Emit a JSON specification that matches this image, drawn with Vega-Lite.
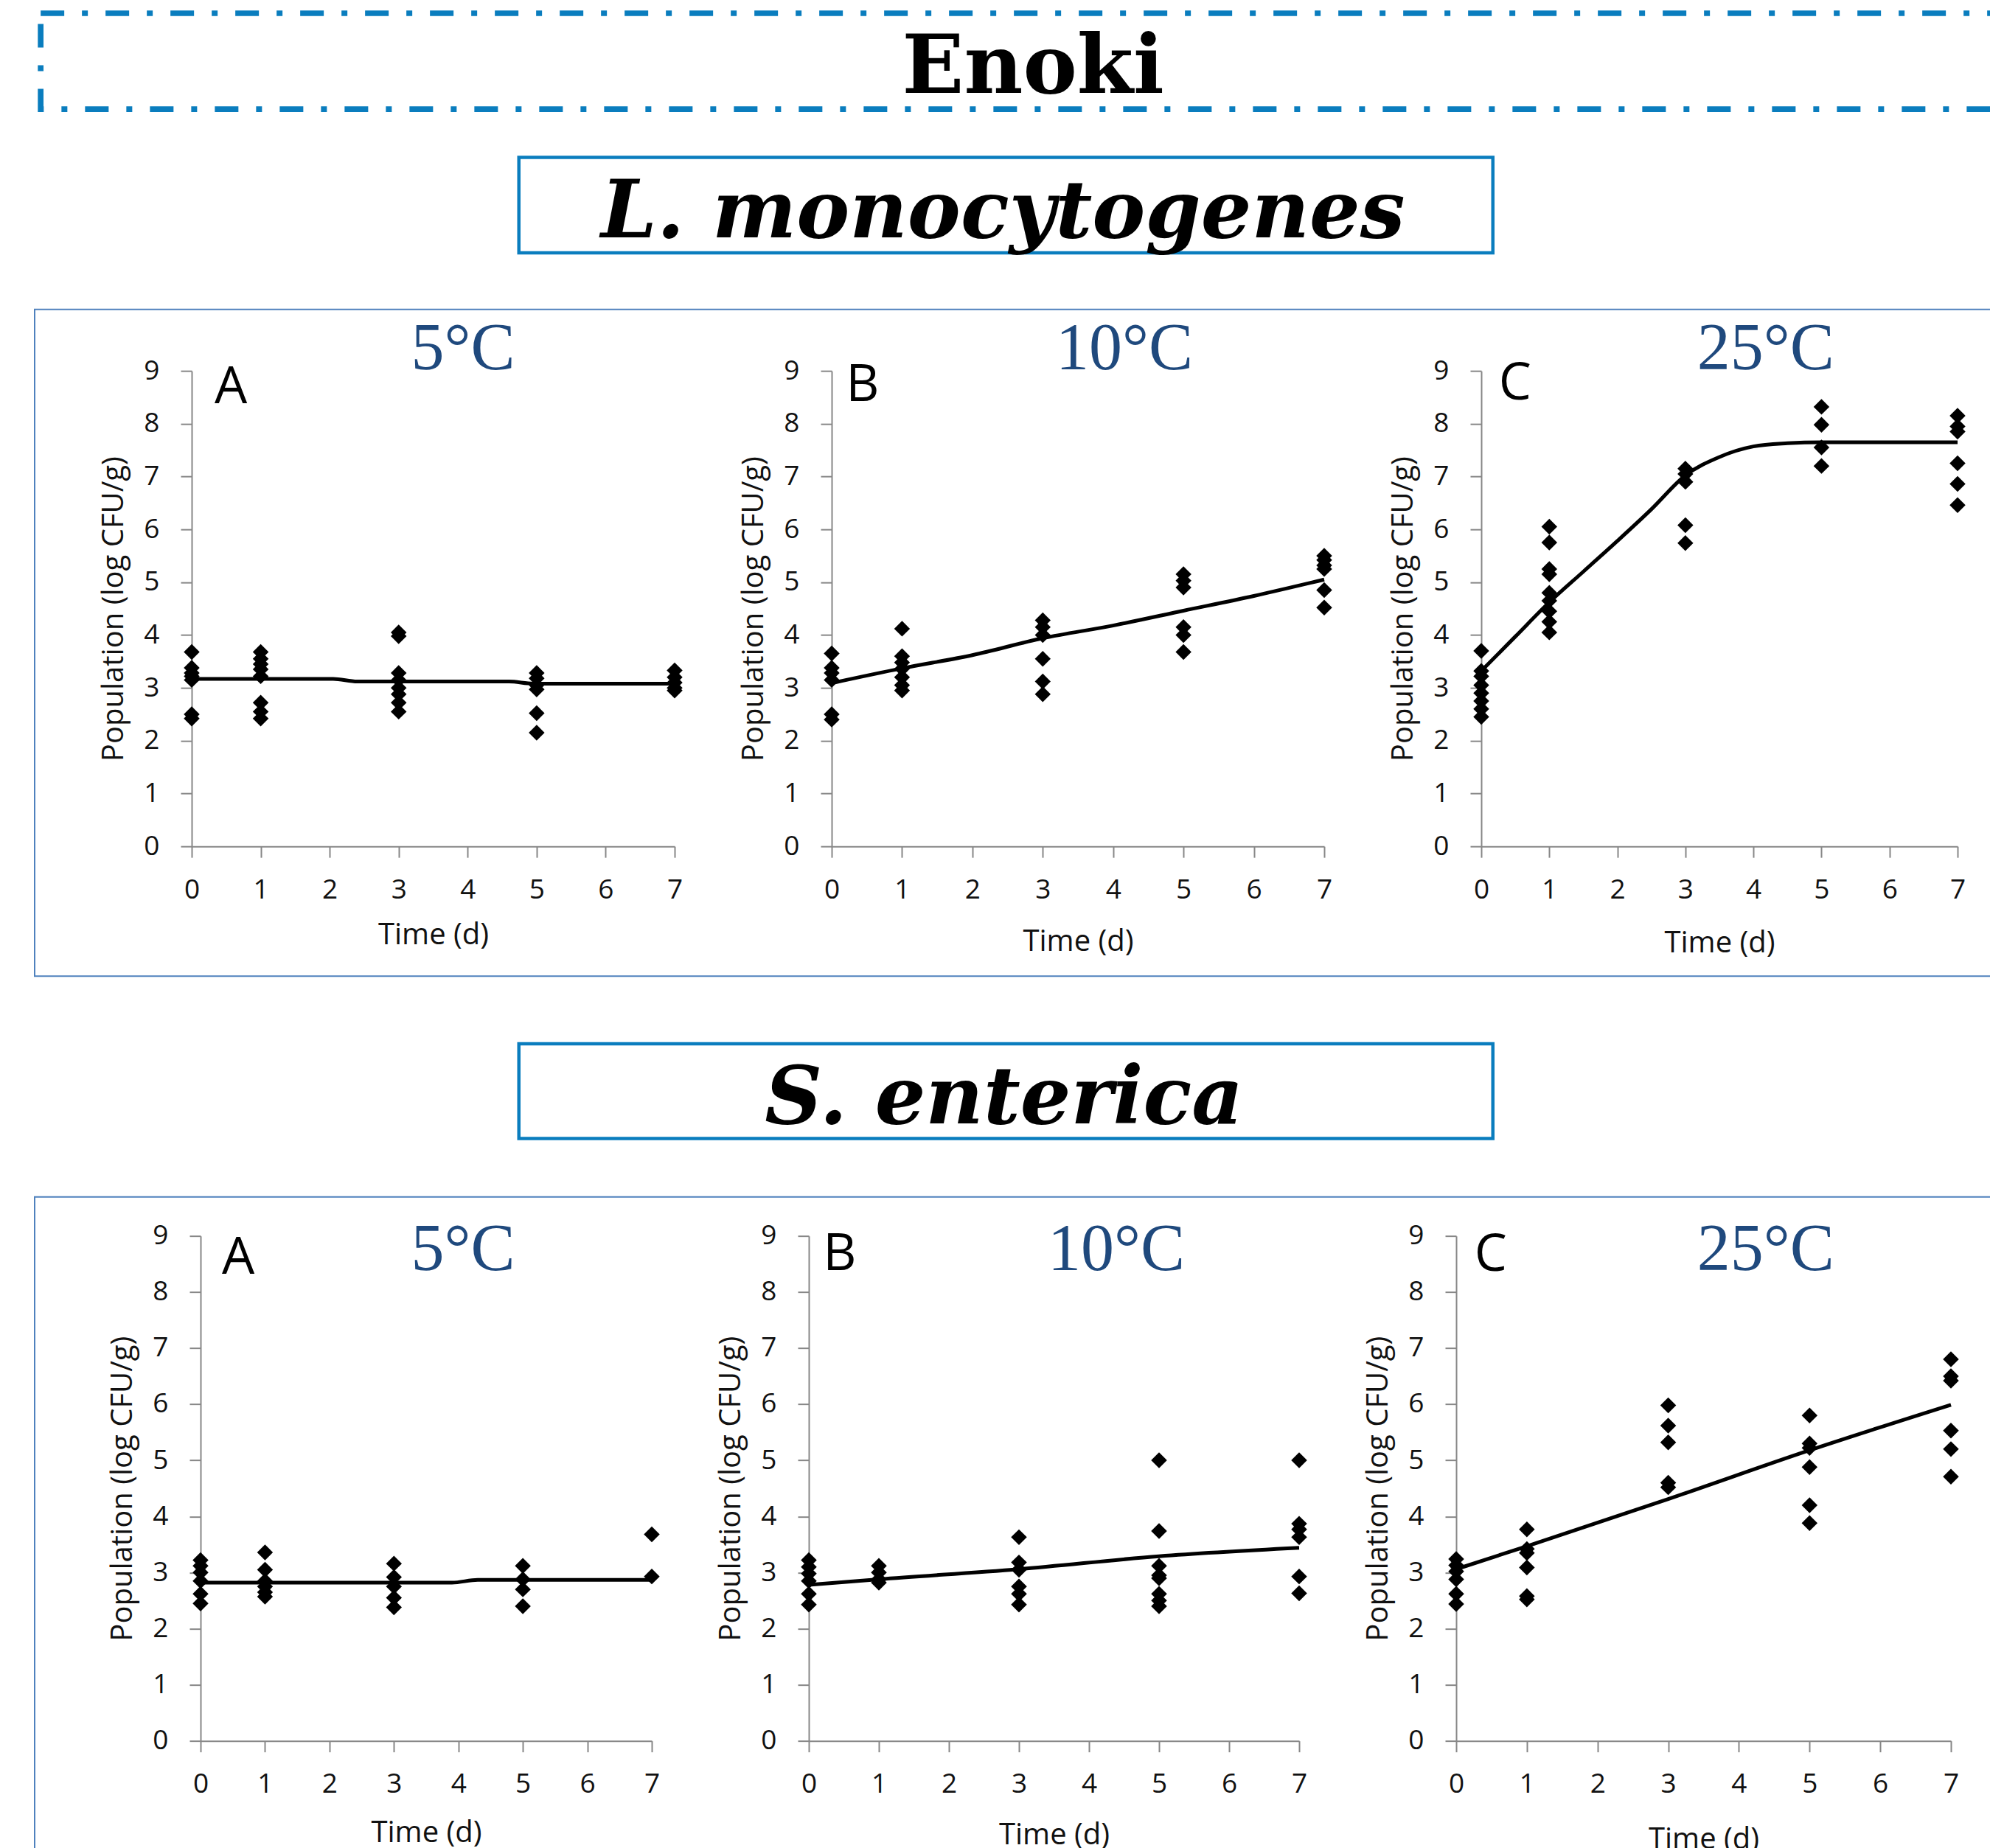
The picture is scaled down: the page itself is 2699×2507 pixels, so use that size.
{
  "$schema": "https://vega.github.io/schema/vega-lite/v6.json",
  "padding": {"left": 46, "top": 14, "right": 0, "bottom": 0},
  "background": "white",
  "datasets": {
    "pts": [
      {"org":"L","temp":5,"day":0,"cfu":3.68},{"org":"L","temp":5,"day":0,"cfu":3.38},{"org":"L","temp":5,"day":0,"cfu":3.28},{"org":"L","temp":5,"day":0,"cfu":3.22},{"org":"L","temp":5,"day":0,"cfu":3.15},{"org":"L","temp":5,"day":0,"cfu":2.5},{"org":"L","temp":5,"day":0,"cfu":2.42},
      {"org":"L","temp":5,"day":1,"cfu":3.68},{"org":"L","temp":5,"day":1,"cfu":3.55},{"org":"L","temp":5,"day":1,"cfu":3.45},{"org":"L","temp":5,"day":1,"cfu":3.35},{"org":"L","temp":5,"day":1,"cfu":3.22},{"org":"L","temp":5,"day":1,"cfu":2.72},{"org":"L","temp":5,"day":1,"cfu":2.55},{"org":"L","temp":5,"day":1,"cfu":2.42},
      {"org":"L","temp":5,"day":3,"cfu":4.05},{"org":"L","temp":5,"day":3,"cfu":3.98},{"org":"L","temp":5,"day":3,"cfu":3.28},{"org":"L","temp":5,"day":3,"cfu":3.15},{"org":"L","temp":5,"day":3,"cfu":3.0},{"org":"L","temp":5,"day":3,"cfu":2.88},{"org":"L","temp":5,"day":3,"cfu":2.72},{"org":"L","temp":5,"day":3,"cfu":2.55},
      {"org":"L","temp":5,"day":5,"cfu":3.28},{"org":"L","temp":5,"day":5,"cfu":3.18},{"org":"L","temp":5,"day":5,"cfu":3.05},{"org":"L","temp":5,"day":5,"cfu":2.97},{"org":"L","temp":5,"day":5,"cfu":2.52},{"org":"L","temp":5,"day":5,"cfu":2.15},
      {"org":"L","temp":5,"day":7,"cfu":3.33},{"org":"L","temp":5,"day":7,"cfu":3.2},{"org":"L","temp":5,"day":7,"cfu":3.1},{"org":"L","temp":5,"day":7,"cfu":3.0},{"org":"L","temp":5,"day":7,"cfu":2.95},
      {"org":"L","temp":10,"day":0,"cfu":3.65},{"org":"L","temp":10,"day":0,"cfu":3.38},{"org":"L","temp":10,"day":0,"cfu":3.28},{"org":"L","temp":10,"day":0,"cfu":3.15},{"org":"L","temp":10,"day":0,"cfu":2.5},{"org":"L","temp":10,"day":0,"cfu":2.4},
      {"org":"L","temp":10,"day":1,"cfu":4.12},{"org":"L","temp":10,"day":1,"cfu":3.6},{"org":"L","temp":10,"day":1,"cfu":3.48},{"org":"L","temp":10,"day":1,"cfu":3.36},{"org":"L","temp":10,"day":1,"cfu":3.2},{"org":"L","temp":10,"day":1,"cfu":3.05},{"org":"L","temp":10,"day":1,"cfu":2.95},
      {"org":"L","temp":10,"day":3,"cfu":4.28},{"org":"L","temp":10,"day":3,"cfu":4.15},{"org":"L","temp":10,"day":3,"cfu":4.0},{"org":"L","temp":10,"day":3,"cfu":3.55},{"org":"L","temp":10,"day":3,"cfu":3.12},{"org":"L","temp":10,"day":3,"cfu":2.88},
      {"org":"L","temp":10,"day":5,"cfu":5.15},{"org":"L","temp":10,"day":5,"cfu":5.03},{"org":"L","temp":10,"day":5,"cfu":4.9},{"org":"L","temp":10,"day":5,"cfu":4.15},{"org":"L","temp":10,"day":5,"cfu":4.0},{"org":"L","temp":10,"day":5,"cfu":3.68},
      {"org":"L","temp":10,"day":7,"cfu":5.5},{"org":"L","temp":10,"day":7,"cfu":5.42},{"org":"L","temp":10,"day":7,"cfu":5.32},{"org":"L","temp":10,"day":7,"cfu":5.25},{"org":"L","temp":10,"day":7,"cfu":4.85},{"org":"L","temp":10,"day":7,"cfu":4.52},
      {"org":"L","temp":25,"day":0,"cfu":3.7},{"org":"L","temp":25,"day":0,"cfu":3.32},{"org":"L","temp":25,"day":0,"cfu":3.22},{"org":"L","temp":25,"day":0,"cfu":3.05},{"org":"L","temp":25,"day":0,"cfu":2.9},{"org":"L","temp":25,"day":0,"cfu":2.75},{"org":"L","temp":25,"day":0,"cfu":2.6},{"org":"L","temp":25,"day":0,"cfu":2.45},
      {"org":"L","temp":25,"day":1,"cfu":6.05},{"org":"L","temp":25,"day":1,"cfu":5.75},{"org":"L","temp":25,"day":1,"cfu":5.25},{"org":"L","temp":25,"day":1,"cfu":5.15},{"org":"L","temp":25,"day":1,"cfu":4.8},{"org":"L","temp":25,"day":1,"cfu":4.65},{"org":"L","temp":25,"day":1,"cfu":4.45},{"org":"L","temp":25,"day":1,"cfu":4.25},{"org":"L","temp":25,"day":1,"cfu":4.05},
      {"org":"L","temp":25,"day":3,"cfu":7.15},{"org":"L","temp":25,"day":3,"cfu":7.05},{"org":"L","temp":25,"day":3,"cfu":6.9},{"org":"L","temp":25,"day":3,"cfu":6.08},{"org":"L","temp":25,"day":3,"cfu":5.74},
      {"org":"L","temp":25,"day":5,"cfu":8.32},{"org":"L","temp":25,"day":5,"cfu":7.98},{"org":"L","temp":25,"day":5,"cfu":7.55},{"org":"L","temp":25,"day":5,"cfu":7.2},
      {"org":"L","temp":25,"day":7,"cfu":8.15},{"org":"L","temp":25,"day":7,"cfu":7.95},{"org":"L","temp":25,"day":7,"cfu":7.85},{"org":"L","temp":25,"day":7,"cfu":7.25},{"org":"L","temp":25,"day":7,"cfu":6.86},{"org":"L","temp":25,"day":7,"cfu":6.46},
      {"org":"S","temp":5,"day":0,"cfu":3.22},{"org":"S","temp":5,"day":0,"cfu":3.12},{"org":"S","temp":5,"day":0,"cfu":3.0},{"org":"S","temp":5,"day":0,"cfu":2.85},{"org":"S","temp":5,"day":0,"cfu":2.62},{"org":"S","temp":5,"day":0,"cfu":2.45},
      {"org":"S","temp":5,"day":1,"cfu":3.36},{"org":"S","temp":5,"day":1,"cfu":3.05},{"org":"S","temp":5,"day":1,"cfu":2.85},{"org":"S","temp":5,"day":1,"cfu":2.75},{"org":"S","temp":5,"day":1,"cfu":2.65},{"org":"S","temp":5,"day":1,"cfu":2.57},
      {"org":"S","temp":5,"day":3,"cfu":3.16},{"org":"S","temp":5,"day":3,"cfu":2.92},{"org":"S","temp":5,"day":3,"cfu":2.75},{"org":"S","temp":5,"day":3,"cfu":2.55},{"org":"S","temp":5,"day":3,"cfu":2.38},
      {"org":"S","temp":5,"day":5,"cfu":3.12},{"org":"S","temp":5,"day":5,"cfu":2.88},{"org":"S","temp":5,"day":5,"cfu":2.7},{"org":"S","temp":5,"day":5,"cfu":2.4},
      {"org":"S","temp":5,"day":7,"cfu":3.68},{"org":"S","temp":5,"day":7,"cfu":2.93},
      {"org":"S","temp":10,"day":0,"cfu":3.22},{"org":"S","temp":10,"day":0,"cfu":3.1},{"org":"S","temp":10,"day":0,"cfu":2.98},{"org":"S","temp":10,"day":0,"cfu":2.85},{"org":"S","temp":10,"day":0,"cfu":2.62},{"org":"S","temp":10,"day":0,"cfu":2.43},
      {"org":"S","temp":10,"day":1,"cfu":3.12},{"org":"S","temp":10,"day":1,"cfu":3.0},{"org":"S","temp":10,"day":1,"cfu":2.88},{"org":"S","temp":10,"day":1,"cfu":2.82},
      {"org":"S","temp":10,"day":3,"cfu":3.63},{"org":"S","temp":10,"day":3,"cfu":3.18},{"org":"S","temp":10,"day":3,"cfu":3.05},{"org":"S","temp":10,"day":3,"cfu":2.75},{"org":"S","temp":10,"day":3,"cfu":2.62},{"org":"S","temp":10,"day":3,"cfu":2.43},
      {"org":"S","temp":10,"day":5,"cfu":5.0},{"org":"S","temp":10,"day":5,"cfu":3.74},{"org":"S","temp":10,"day":5,"cfu":3.12},{"org":"S","temp":10,"day":5,"cfu":2.95},{"org":"S","temp":10,"day":5,"cfu":2.9},{"org":"S","temp":10,"day":5,"cfu":2.62},{"org":"S","temp":10,"day":5,"cfu":2.5},{"org":"S","temp":10,"day":5,"cfu":2.4},
      {"org":"S","temp":10,"day":7,"cfu":5.0},{"org":"S","temp":10,"day":7,"cfu":3.87},{"org":"S","temp":10,"day":7,"cfu":3.77},{"org":"S","temp":10,"day":7,"cfu":3.63},{"org":"S","temp":10,"day":7,"cfu":2.93},{"org":"S","temp":10,"day":7,"cfu":2.63},
      {"org":"S","temp":25,"day":0,"cfu":3.24},{"org":"S","temp":25,"day":0,"cfu":3.13},{"org":"S","temp":25,"day":0,"cfu":3.02},{"org":"S","temp":25,"day":0,"cfu":2.88},{"org":"S","temp":25,"day":0,"cfu":2.62},{"org":"S","temp":25,"day":0,"cfu":2.44},
      {"org":"S","temp":25,"day":1,"cfu":3.77},{"org":"S","temp":25,"day":1,"cfu":3.42},{"org":"S","temp":25,"day":1,"cfu":3.35},{"org":"S","temp":25,"day":1,"cfu":3.09},{"org":"S","temp":25,"day":1,"cfu":2.58},{"org":"S","temp":25,"day":1,"cfu":2.52},
      {"org":"S","temp":25,"day":3,"cfu":5.98},{"org":"S","temp":25,"day":3,"cfu":5.62},{"org":"S","temp":25,"day":3,"cfu":5.32},{"org":"S","temp":25,"day":3,"cfu":4.6},{"org":"S","temp":25,"day":3,"cfu":4.52},
      {"org":"S","temp":25,"day":5,"cfu":5.8},{"org":"S","temp":25,"day":5,"cfu":5.3},{"org":"S","temp":25,"day":5,"cfu":5.22},{"org":"S","temp":25,"day":5,"cfu":4.88},{"org":"S","temp":25,"day":5,"cfu":4.2},{"org":"S","temp":25,"day":5,"cfu":3.88},
      {"org":"S","temp":25,"day":7,"cfu":6.8},{"org":"S","temp":25,"day":7,"cfu":6.5},{"org":"S","temp":25,"day":7,"cfu":6.42},{"org":"S","temp":25,"day":7,"cfu":5.53},{"org":"S","temp":25,"day":7,"cfu":5.2},{"org":"S","temp":25,"day":7,"cfu":4.71}
    ],
    "fit": [
      {"org":"L","temp":5,"day":0,"cfu":3.17},{"org":"L","temp":5,"day":2.05,"cfu":3.17},{"org":"L","temp":5,"day":2.4,"cfu":3.12},{"org":"L","temp":5,"day":4.6,"cfu":3.12},{"org":"L","temp":5,"day":4.95,"cfu":3.08},{"org":"L","temp":5,"day":7,"cfu":3.08},
      {"org":"L","temp":10,"day":0,"cfu":3.09},{"org":"L","temp":10,"day":1,"cfu":3.37},{"org":"L","temp":10,"day":2,"cfu":3.62},{"org":"L","temp":10,"day":3,"cfu":3.94},{"org":"L","temp":10,"day":4,"cfu":4.18},{"org":"L","temp":10,"day":5,"cfu":4.46},{"org":"L","temp":10,"day":6,"cfu":4.74},{"org":"L","temp":10,"day":7,"cfu":5.05},
      {"org":"L","temp":25,"day":0,"cfu":3.32},{"org":"L","temp":25,"day":0.5,"cfu":3.97},{"org":"L","temp":25,"day":1,"cfu":4.62},{"org":"L","temp":25,"day":1.5,"cfu":5.2},{"org":"L","temp":25,"day":2,"cfu":5.78},{"org":"L","temp":25,"day":2.5,"cfu":6.38},{"org":"L","temp":25,"day":3,"cfu":7.02},{"org":"L","temp":25,"day":3.5,"cfu":7.37},{"org":"L","temp":25,"day":4,"cfu":7.57},{"org":"L","temp":25,"day":4.5,"cfu":7.63},{"org":"L","temp":25,"day":5,"cfu":7.65},{"org":"L","temp":25,"day":7,"cfu":7.65},
      {"org":"S","temp":5,"day":0,"cfu":2.82},{"org":"S","temp":5,"day":3.9,"cfu":2.82},{"org":"S","temp":5,"day":4.3,"cfu":2.87},{"org":"S","temp":5,"day":7,"cfu":2.87},
      {"org":"S","temp":10,"day":0,"cfu":2.78},{"org":"S","temp":10,"day":1,"cfu":2.88},{"org":"S","temp":10,"day":3,"cfu":3.06},{"org":"S","temp":10,"day":5,"cfu":3.29},{"org":"S","temp":10,"day":7,"cfu":3.44},
      {"org":"S","temp":25,"day":0,"cfu":3.06},{"org":"S","temp":25,"day":1,"cfu":3.47},{"org":"S","temp":25,"day":3,"cfu":4.31},{"org":"S","temp":25,"day":5,"cfu":5.18},{"org":"S","temp":25,"day":7,"cfu":5.99}
    ]
  },
  "config": {
    "view": {"stroke": null},
    "font": "Open Sans",
    "axis": {"grid": false, "format": "d", "labelFlush": false, "labelOverlap": false, "domainColor": "#878787", "domainWidth": 2, "tickColor": "#878787", "tickWidth": 2, "tickSize": 15, "labelFont": "Open Sans", "labelFontSize": 37, "labelColor": "#111111", "titleFont": "Open Sans", "titleFontSize": 40, "titleFontWeight": "normal", "titleColor": "#111111"},
    "axisX": {"labelPadding": 26, "titlePadding": 28},
    "axisY": {"labelPadding": 29, "titlePadding": 20}
  },
  "spacing": 57.4,
  "vconcat": [
    {"spacing": 4.15, "hconcat": [
      {"width": 1, "height": 1, "data": {"values": []}, "mark": "point"},
      {"width": 2665, "height": 130.2, "view": {"stroke": "#0A7DBE", "strokeWidth": 7.7, "strokeDash": [32, 24, 8, 24]},
       "data": {"values": [{"t": "Enoki"}]},
       "mark": {"type": "text", "font": "DejaVu Serif", "fontSize": 110, "fontWeight": "bold", "align": "center", "baseline": "alphabetic", "color": "black"},
       "encoding": {"x": {"datum": 0.50507, "type": "quantitative", "scale": {"domain": [0, 1], "nice": false}, "axis": null}, "y": {"datum": 0.16897, "type": "quantitative", "scale": {"domain": [0, 1], "nice": false}, "axis": null}, "text": {"field": "t"}}}
    ]},
    {"spacing": 71.75, "vconcat": [
      {"spacing": 653.75, "hconcat": [
        {"width": 1, "height": 1, "data": {"values": []}, "mark": "point"},
        {"width": 1321, "height": 129.7, "view": {"stroke": "#0A7DBE", "strokeWidth": 4.5},
         "data": {"values": [{"t": "L. monocytogenes"}]},
         "mark": {"type": "text", "font": "DejaVu Serif", "fontSize": 108, "fontWeight": "bold", "fontStyle": "italic", "align": "center", "baseline": "alphabetic", "color": "black"},
         "encoding": {"x": {"datum": 0.49697, "type": "quantitative", "scale": {"domain": [0, 1], "nice": false}, "axis": null}, "y": {"datum": 0.16191, "type": "quantitative", "scale": {"domain": [0, 1], "nice": false}, "axis": null}, "text": {"field": "t"}}}
      ]},
      {"spacing": 87.75, "vconcat": [
        {"spacing": 213, "bounds": "flush", "hconcat": [
          {"width": 1, "height": 1, "data": {"values": []}, "mark": "point"},
          {"width": 655, "height": 645,
           "layer": [
             {"data": {"values": [{}]}, "mark": {"type": "rect", "fill": null, "stroke": "#4F81BD", "strokeWidth": 2},
              "encoding": {"x": {"datum": -2.2763, "type": "quantitative"}, "x2": {"datum": 26.29}, "y": {"datum": 10.1623, "type": "quantitative"}, "y2": {"datum": -2.4558}}},
             {"data": {"name": "pts"}, "transform": [{"filter": "datum.org==='L' && datum.temp===5"}], "mark": {"type": "point", "shape": "diamond", "filled": true, "color": "black", "opacity": 1, "size": 460},
              "encoding": {"x": {"field": "day", "type": "quantitative", "scale": {"domain": [0, 7], "nice": false}, "axis": {"title": "Time (d)", "values": [0,1,2,3,4,5,6,7], "titlePadding": 23}}, "y": {"field": "cfu", "type": "quantitative", "scale": {"domain": [0, 9], "nice": false}, "axis": {"title": "Population (log CFU/g)", "values": [0,1,2,3,4,5,6,7,8,9]}}}},
             {"data": {"name": "fit"}, "transform": [{"filter": "datum.org==='L' && datum.temp===5"}], "mark": {"type": "line", "color": "black", "strokeWidth": 5, "interpolate": "monotone"},
              "encoding": {"x": {"field": "day", "type": "quantitative"}, "y": {"field": "cfu", "type": "quantitative"}}},
             {"data": {"values": [{"lab": "A"}]}, "mark": {"type": "text", "font": "Open Sans", "fontSize": 70, "align": "left", "baseline": "alphabetic", "color": "black"},
              "encoding": {"x": {"datum": 0.331, "type": "quantitative"}, "y": {"datum": 8.386, "type": "quantitative"}, "text": {"field": "lab"}}},
             {"data": {"values": [{"lab": "5°C"}]}, "mark": {"type": "text", "font": "Liberation Serif", "fontSize": 90, "align": "left", "baseline": "alphabetic", "color": "#1F497D"},
              "encoding": {"x": {"datum": 3.179, "type": "quantitative"}, "y": {"datum": 9.028, "type": "quantitative"}, "text": {"field": "lab"}}}
           ]},
          {"width": 668, "height": 645,
           "layer": [
             {"data": {"name": "pts"}, "transform": [{"filter": "datum.org==='L' && datum.temp===10"}], "mark": {"type": "point", "shape": "diamond", "filled": true, "color": "black", "opacity": 1, "size": 460},
              "encoding": {"x": {"field": "day", "type": "quantitative", "scale": {"domain": [0, 7], "nice": false}, "axis": {"title": "Time (d)", "values": [0,1,2,3,4,5,6,7], "titlePadding": 32}}, "y": {"field": "cfu", "type": "quantitative", "scale": {"domain": [0, 9], "nice": false}, "axis": {"title": "Population (log CFU/g)", "values": [0,1,2,3,4,5,6,7,8,9]}}}},
             {"data": {"name": "fit"}, "transform": [{"filter": "datum.org==='L' && datum.temp===10"}], "mark": {"type": "line", "color": "black", "strokeWidth": 5, "interpolate": "monotone"},
              "encoding": {"x": {"field": "day", "type": "quantitative"}, "y": {"field": "cfu", "type": "quantitative"}}},
             {"data": {"values": [{"lab": "B"}]}, "mark": {"type": "text", "font": "Open Sans", "fontSize": 70, "align": "left", "baseline": "alphabetic", "color": "black"},
              "encoding": {"x": {"datum": 0.201, "type": "quantitative"}, "y": {"datum": 8.43, "type": "quantitative"}, "text": {"field": "lab"}}},
             {"data": {"values": [{"lab": "10°C"}]}, "mark": {"type": "text", "font": "Liberation Serif", "fontSize": 90, "align": "left", "baseline": "alphabetic", "color": "#1F497D"},
              "encoding": {"x": {"datum": 3.186, "type": "quantitative"}, "y": {"datum": 9.028, "type": "quantitative"}, "text": {"field": "lab"}}}
           ]},
          {"width": 646, "height": 645,
           "layer": [
             {"data": {"name": "pts"}, "transform": [{"filter": "datum.org==='L' && datum.temp===25"}], "mark": {"type": "point", "shape": "diamond", "filled": true, "color": "black", "opacity": 1, "size": 460},
              "encoding": {"x": {"field": "day", "type": "quantitative", "scale": {"domain": [0, 7], "nice": false}, "axis": {"title": "Time (d)", "values": [0,1,2,3,4,5,6,7], "titlePadding": 34.5}}, "y": {"field": "cfu", "type": "quantitative", "scale": {"domain": [0, 9], "nice": false}, "axis": {"title": "Population (log CFU/g)", "values": [0,1,2,3,4,5,6,7,8,9]}}}},
             {"data": {"name": "fit"}, "transform": [{"filter": "datum.org==='L' && datum.temp===25"}], "mark": {"type": "line", "color": "black", "strokeWidth": 5, "interpolate": "monotone"},
              "encoding": {"x": {"field": "day", "type": "quantitative"}, "y": {"field": "cfu", "type": "quantitative"}}},
             {"data": {"values": [{"lab": "C"}]}, "mark": {"type": "text", "font": "Open Sans", "fontSize": 70, "align": "left", "baseline": "alphabetic", "color": "black"},
              "encoding": {"x": {"datum": 0.258, "type": "quantitative"}, "y": {"datum": 8.46, "type": "quantitative"}, "text": {"field": "lab"}}},
             {"data": {"values": [{"lab": "25°C"}]}, "mark": {"type": "text", "font": "Liberation Serif", "fontSize": 90, "align": "left", "baseline": "alphabetic", "color": "#1F497D"},
              "encoding": {"x": {"datum": 3.172, "type": "quantitative"}, "y": {"datum": 9.028, "type": "quantitative"}, "text": {"field": "lab"}}}
           ]}
        ]},
        {"spacing": 72.75, "vconcat": [
          {"spacing": 653.75, "hconcat": [
            {"width": 1, "height": 1, "data": {"values": []}, "mark": "point"},
            {"width": 1321, "height": 128.5, "view": {"stroke": "#0A7DBE", "strokeWidth": 4.5},
             "data": {"values": [{"t": "S. enterica"}]},
             "mark": {"type": "text", "font": "DejaVu Serif", "fontSize": 108, "fontWeight": "bold", "fontStyle": "italic", "align": "center", "baseline": "alphabetic", "color": "black"},
             "encoding": {"x": {"datum": 0.4981, "type": "quantitative", "scale": {"domain": [0, 1], "nice": false}, "axis": null}, "y": {"datum": 0.15564, "type": "quantitative", "scale": {"domain": [0, 1], "nice": false}, "axis": null}, "text": {"field": "t"}}}
          ]},
          {"spacing": 213, "bounds": "flush", "hconcat": [
            {"width": 13, "height": 1, "data": {"values": []}, "mark": "point"},
            {"width": 612, "height": 685,
             "layer": [
               {"data": {"values": [{}]}, "mark": {"type": "rect", "fill": null, "stroke": "#4F81BD", "strokeWidth": 2},
                "encoding": {"x": {"datum": -2.5735, "type": "quantitative"}, "x2": {"datum": 28.0}, "y": {"datum": 9.6964, "type": "quantitative"}, "y2": {"datum": -2.378}}},
               {"data": {"name": "pts"}, "transform": [{"filter": "datum.org==='S' && datum.temp===5"}], "mark": {"type": "point", "shape": "diamond", "filled": true, "color": "black", "opacity": 1, "size": 460},
                "encoding": {"x": {"field": "day", "type": "quantitative", "scale": {"domain": [0, 7], "nice": false}, "axis": {"title": "Time (d)", "values": [0,1,2,3,4,5,6,7], "titlePadding": 28}}, "y": {"field": "cfu", "type": "quantitative", "scale": {"domain": [0, 9], "nice": false}, "axis": {"title": "Population (log CFU/g)", "values": [0,1,2,3,4,5,6,7,8,9]}}}},
               {"data": {"name": "fit"}, "transform": [{"filter": "datum.org==='S' && datum.temp===5"}], "mark": {"type": "line", "color": "black", "strokeWidth": 5, "interpolate": "monotone"},
                "encoding": {"x": {"field": "day", "type": "quantitative"}, "y": {"field": "cfu", "type": "quantitative"}}},
               {"data": {"values": [{"lab": "A"}]}, "mark": {"type": "text", "font": "Open Sans", "fontSize": 70, "align": "left", "baseline": "alphabetic", "color": "black"},
                "encoding": {"x": {"datum": 0.332, "type": "quantitative"}, "y": {"datum": 8.32, "type": "quantitative"}, "text": {"field": "lab"}}},
               {"data": {"values": [{"lab": "5°C"}]}, "mark": {"type": "text", "font": "Liberation Serif", "fontSize": 90, "align": "left", "baseline": "alphabetic", "color": "#1F497D"},
                "encoding": {"x": {"datum": 3.266, "type": "quantitative"}, "y": {"datum": 8.396, "type": "quantitative"}, "text": {"field": "lab"}}}
             ]},
            {"width": 665, "height": 685,
             "layer": [
               {"data": {"name": "pts"}, "transform": [{"filter": "datum.org==='S' && datum.temp===10"}], "mark": {"type": "point", "shape": "diamond", "filled": true, "color": "black", "opacity": 1, "size": 460},
                "encoding": {"x": {"field": "day", "type": "quantitative", "scale": {"domain": [0, 7], "nice": false}, "axis": {"title": "Time (d)", "values": [0,1,2,3,4,5,6,7], "titlePadding": 31}}, "y": {"field": "cfu", "type": "quantitative", "scale": {"domain": [0, 9], "nice": false}, "axis": {"title": "Population (log CFU/g)", "values": [0,1,2,3,4,5,6,7,8,9]}}}},
               {"data": {"name": "fit"}, "transform": [{"filter": "datum.org==='S' && datum.temp===10"}], "mark": {"type": "line", "color": "black", "strokeWidth": 5, "interpolate": "monotone"},
                "encoding": {"x": {"field": "day", "type": "quantitative"}, "y": {"field": "cfu", "type": "quantitative"}}},
               {"data": {"values": [{"lab": "B"}]}, "mark": {"type": "text", "font": "Open Sans", "fontSize": 70, "align": "left", "baseline": "alphabetic", "color": "black"},
                "encoding": {"x": {"datum": 0.202, "type": "quantitative"}, "y": {"datum": 8.39, "type": "quantitative"}, "text": {"field": "lab"}}},
               {"data": {"values": [{"lab": "10°C"}]}, "mark": {"type": "text", "font": "Liberation Serif", "fontSize": 90, "align": "left", "baseline": "alphabetic", "color": "#1F497D"},
                "encoding": {"x": {"datum": 3.411, "type": "quantitative"}, "y": {"datum": 8.396, "type": "quantitative"}, "text": {"field": "lab"}}}
             ]},
            {"width": 671, "height": 685,
             "layer": [
               {"data": {"name": "pts"}, "transform": [{"filter": "datum.org==='S' && datum.temp===25"}], "mark": {"type": "point", "shape": "diamond", "filled": true, "color": "black", "opacity": 1, "size": 460},
                "encoding": {"x": {"field": "day", "type": "quantitative", "scale": {"domain": [0, 7], "nice": false}, "axis": {"title": "Time (d)", "values": [0,1,2,3,4,5,6,7], "titlePadding": 37}}, "y": {"field": "cfu", "type": "quantitative", "scale": {"domain": [0, 9], "nice": false}, "axis": {"title": "Population (log CFU/g)", "values": [0,1,2,3,4,5,6,7,8,9]}}}},
               {"data": {"name": "fit"}, "transform": [{"filter": "datum.org==='S' && datum.temp===25"}], "mark": {"type": "line", "color": "black", "strokeWidth": 5, "interpolate": "monotone"},
                "encoding": {"x": {"field": "day", "type": "quantitative"}, "y": {"field": "cfu", "type": "quantitative"}}},
               {"data": {"values": [{"lab": "C"}]}, "mark": {"type": "text", "font": "Open Sans", "fontSize": 70, "align": "left", "baseline": "alphabetic", "color": "black"},
                "encoding": {"x": {"datum": 0.259, "type": "quantitative"}, "y": {"datum": 8.375, "type": "quantitative"}, "text": {"field": "lab"}}},
               {"data": {"values": [{"lab": "25°C"}]}, "mark": {"type": "text", "font": "Liberation Serif", "fontSize": 90, "align": "left", "baseline": "alphabetic", "color": "#1F497D"},
                "encoding": {"x": {"datum": 3.408, "type": "quantitative"}, "y": {"datum": 8.396, "type": "quantitative"}, "text": {"field": "lab"}}}
             ]}
          ]}
        ]}
      ]}
    ]}
  ]
}
